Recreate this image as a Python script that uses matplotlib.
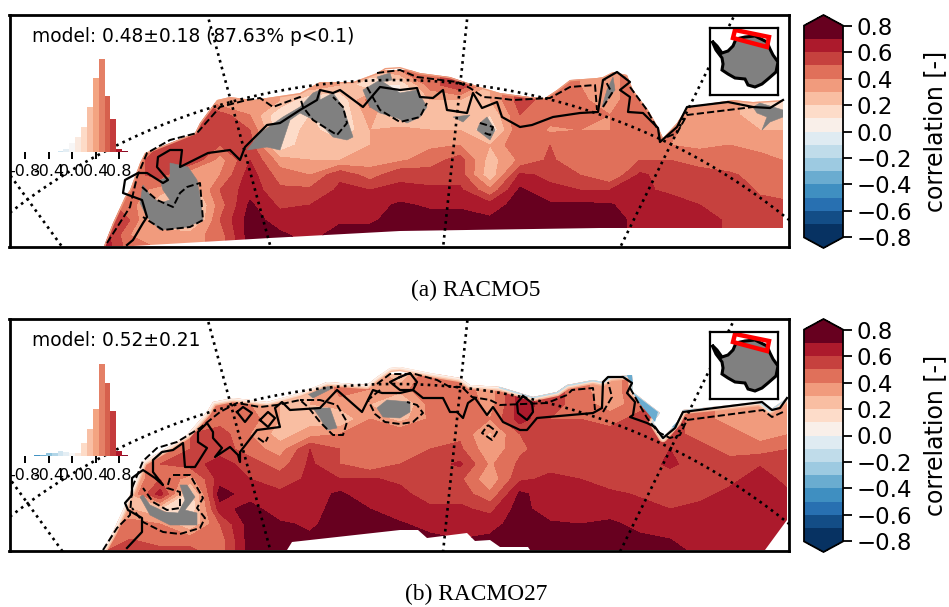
import numpy as np
import matplotlib
matplotlib.use("Agg")
import matplotlib.pyplot as plt
from matplotlib.colors import ListedColormap
from matplotlib.patches import Polygon

W, H = 949, 607
LEVELS = np.round(np.arange(-0.8, 0.81, 0.1), 1)
BAND_COLORS = ['#073262','#134d86','#2870b1','#3f8fc1','#6aacd0','#9dcae1','#c0dcea','#dfebf2',
               '#f9efe9','#fddcc9','#f9bea2','#f19b7d','#e0705a','#c6413e','#ac1a2c','#67001f']
CB_TICKS = [-0.8, -0.6, -0.4, -0.2, 0.0, 0.2, 0.4, 0.6, 0.8]
HIST_TICKS = [-0.8, -0.4, 0.0, 0.4, 0.8]
HIST_LABELS = ['-0.8', '-0.4', '0.0', '0.4', '0.8']
HIST_BINS = np.round(np.arange(-1.0, 0.91, 0.1), 1)
HIST_A = [1, 1, 1, 1, 1, 1, 1, 1, 3, 10, 28, 45, 74, 134, 221, 278, 167, 98, 8, 2]
HIST_B = [1, 1, 1, 1, 2, 3, 8, 9, 16, 11, 8, 10, 40, 82, 142, 277, 220, 136, 16, 3]

GRID_X = np.arange(100, 791, 30)
GRID_Y = np.arange(70, 251, 15)

FIELD_A = [
 [45,45,45,45,45,45,45,45,45,55,62,70,70],
 [45,45,45,45,45,45,45,45,45,45,50,40,45],
 [50,50,50,50,50,50,55,55,35,20,15,40,40],
 [55,55,55,55,55,58,60,30,20,10,10,35,35],
 [30,30,30,55,55,50,35,40,50,45,50,45,45],
 [40,40,40,40,50,55,60,65,66,72,75,75,75],
 [30,30,30,10,10,10,35,45,52,58,65,72,75],
 [40,40,10,20,25,30,30,40,52,60,65,66,70],
 [30,30,10,10,10,25,30,58,62,65,68,75,75],
 [30,10,45,35,30,30,35,45,60,65,68,75,75],
 [40,10,10,10,35,35,38,58,62,72,75,75,75],
 [45,45,30,28,30,38,45,55,62,68,75,75,75],
 [60,60,30,30,30,40,55,55,62,68,75,75,75],
 [30,30,30,20,10,30,25,22,42,64,72,75,75],
 [55,55,55,50,50,50,42,62,72,75,75,75,75],
 [45,45,45,45,38,50,52,58,62,72,75,75,75],
 [40,40,42,42,40,42,42,50,60,72,75,75,75],
 [35,35,35,40,40,50,45,40,60,71,75,75,75],
 [50,50,50,42,42,42,50,62,62,64,66,66,66],
 [42,42,42,42,42,40,50,55,58,65,65,65,65],
 [35,35,35,35,35,38,45,55,55,60,65,65,65],
 [35,35,35,35,35,40,42,52,55,57,58,58,58],
 [20,20,20,20,30,35,45,45,49,52,55,55,55],
 [20,20,20,20,30,35,38,42,45,52,55,55,55],
]
FIELD_B = [
 [30,30,30,30,30,30,30,30,30,30,40,45,50],
 [30,30,30,30,30,30,30,30,30,30,45,50,55],
 [50,50,50,50,50,50,50,50,65,20,40,45,55],
 [50,50,50,50,50,50,55,35,10,10,20,45,55],
 [45,45,45,45,55,55,65,65,75,65,50,45,45],
 [40,40,40,45,40,45,55,60,64,75,75,75,75],
 [30,30,30,30,25,35,45,55,62,62,72,75,75],
 [20,20,30,25,35,60,62,62,65,65,68,72,72],
 [45,45,35,20,40,50,50,60,72,75,75,75,75],
 [40,40,30,40,50,42,42,61,62,70,75,75,75],
 [20,35,15,25,50,50,50,58,63,65,71,75,75],
 [50,50,45,42,42,50,55,58,55,62,67,72,72],
 [45,45,50,50,48,52,62,52,56,62,65,70,70],
 [35,35,35,40,28,32,38,32,42,57,66,72,72],
 [65,65,65,65,50,48,52,58,72,75,75,75,75],
 [55,55,55,50,55,55,57,62,65,62,72,75,75],
 [45,45,45,50,55,55,60,60,62,63,70,75,75],
 [30,30,35,45,55,55,55,55,62,65,72,75,75],
 [55,55,45,55,55,55,55,55,59,63,67,72,75],
 [55,55,55,55,55,60,62,55,55,60,65,70,75],
 [45,45,45,45,45,55,55,55,57,63,65,65,68],
 [35,35,35,35,45,45,55,57,63,65,65,65,65],
 [38,38,38,38,35,45,59,65,65,65,65,65,65],
 [40,40,40,40,40,50,55,56,61,65,65,65,65],
]

EDGE_A = [(104,246),(113,223),(125,197),(130,190),(140,163),(145,153),(160,147),(195,133),(200,123),(217,100),(230,97),(253,100),(300,93),(320,82),(353,82),(377,73),(385,68),(400,67),(420,73),(450,77),(480,87),(500,93),(530,97),(545,98),(557,90),(570,80),(597,78),(603,77),(613,72),(627,75),(633,90),(648,110),(658,127),(663,138),(677,123),(687,107),(733,100),(753,102),(783,100),
          (783,228),(600,228),(400,231),(270,238),(133,246)]
EDGE_B = [(103,246),(113,228),(133,184),(143,158),(167,144),(187,131),(207,108),(213,98),(233,94),(267,98),(300,89),(327,78),(367,81),(377,73),(390,64),(400,63),(430,69),(460,74),(470,81),(500,83),(533,93),(557,88),(567,81),(593,76),(603,78),(610,73),(632,71),(633,88),(660,109),(653,118),(663,134),(677,118),(683,106),(760,98),(770,106),(787,94),
          (787,216),(765,246),(530,246),(528,243),(500,243),(490,236),(475,237),(467,229),(427,234),(418,226),(400,226),(292,238),(287,246)]
N_COAST_A, N_COAST_B = 39, 36

GREY_A = [
 [(140,203),(147,217),(160,230),(187,227),(203,220),(200,197),(197,180),(188,167),(170,163),(170,177),(160,180),(163,190),(170,200),(160,203),(150,195),(143,185)],
 [(247,150),(260,133),(283,117),(300,107),(313,93),(320,90),(320,100),(333,93),(343,107),(353,137),(347,140),(333,137),(320,123),(300,113),(290,120),(280,150),(267,147)],
 [(363,90),(380,80),(400,93),(417,90),(427,107),(420,117),(407,123),(397,118),(380,113),(370,107)],
 [(377,77),(390,73),(392,80),(380,82)],
 [(480,123),(487,117),(495,130),(490,140),(477,130)],
 [(453,117),(470,115),(463,122)],
 [(607,90),(613,77),(615,90),(602,107)],
 [(753,107),(760,103),(783,110),(783,117),(770,122),(762,130),(767,117),(757,113)],
]
GREY_B = [
 [(140,193),(150,211),(170,221),(197,221),(197,209),(185,206),(195,193),(187,181),(180,181),(185,196),(178,209),(165,208),(150,201),(143,191)],
 [(313,104),(330,104),(337,124),(327,126),(320,114)],
 [(327,78),(333,84),(313,94),(307,89)],
 [(377,104),(387,96),(410,98),(410,108),(400,114),(383,113)],
 [(557,88),(563,79),(569,79),(563,89)],
]
BLUE_B = [
 [(627,71),(632,71),(633,81),(628,74)],
 [(633,89),(658,108),(655,118),(640,100)],
 [(672,123),(677,118),(677,124)],
]

SOLID_A = [[(127,245),(133,240),(143,223),(147,217),(142,200),(123,193),(125,180),(138,173),(147,173),(163,183),(168,180),(157,167),(158,157),(170,150),(182,150),(180,167),(208,153),(230,150),(240,160),(245,147),(267,125),(280,123),(300,110),(317,100),(320,90),(333,93),(340,90),(363,107),(380,87),(400,90),(417,88),(420,97),(433,98),(443,90),(447,110),(467,113),(473,93),(482,108),(497,102),(502,117),(520,127),(532,125),(553,117),(580,113),(598,112),(603,80),(617,72),(630,82),(620,90),(630,97),(628,112),(643,113),(658,128),(660,142),(677,127),(687,107),(728,102),(753,107),(770,108),(783,100)]]
DASH_A = [
 [(107,243),(130,207),(137,177),(147,153),(170,140),(197,133),(220,107),(247,100),(260,98),(273,107),(300,97),(303,107),(313,120),(337,135),(347,123),(343,107),(333,97)],
 [(142,187),(157,200),(173,207),(180,193),(187,187),(200,183),(203,220),(190,227),(163,230),(143,217)],
 [(367,87),(380,110),(400,122),(420,117),(427,103)],
 [(377,73),(400,70),(417,77),(457,82),(470,88),(483,97),(497,98),(513,100),(550,98),(570,87),(595,85),(597,110)],
 [(603,107),(612,93),(605,80)],
 [(630,87),(647,110),(658,130)],
 [(667,137),(677,133),(687,115),(753,107)],
 [(480,123),(493,127),(490,135),(482,132)],
]
SOLID_B = [
 [(127,244),(142,228),(142,214),(128,206),(125,199),(132,191),(132,174),(143,166),(155,174),(163,181),(153,168),(153,156),(162,148),(173,146),(183,139),(185,163),(195,163),(207,144),(198,138),(198,128),(207,119),(213,128),(213,134),(222,144),(215,153),(230,143),(238,151),(240,158),(240,148),(257,126),(280,123),(275,104),(282,98),(290,106),(320,104),(337,86),(362,108),(373,86),(382,89),(400,89),(413,86),(423,94),(443,94),(450,108),(457,108),(463,114),(468,99),(475,94),(487,111),(493,103),(503,118),(520,126),(527,126),(537,114),(593,109),(602,104),(603,78),(608,73),(623,73),(632,79),(627,89),(635,98),(633,111),(630,113),(647,119),(655,123),(663,134),(675,124),(683,108),(762,98),(772,106),(780,104),(787,94)],
 [(237,108),(243,103),(252,109),(245,118),(237,108)],
 [(260,116),(268,108),(275,114),(268,123),(260,116)],
 [(400,73),(410,69),(417,78),(413,86),(400,86),(390,78),(400,73)],
 [(523,92),(532,99),(533,108),(527,116),(518,109),(517,99),(523,92)],
]
DASH_B = [
 [(103,246),(117,224),(130,211),(132,184),(143,157),(157,144),(177,138),(200,124),(220,108),(237,99),(260,103),(277,101),(300,96),(308,103),(320,118),(333,131),(343,131),(347,118),(337,101),(320,96),(300,96)],
 [(173,171),(190,171),(203,194),(197,204),(205,214),(200,224),(180,230),(163,228),(143,218),(132,204)],
 [(170,174),(167,184),(180,188),(180,204),(167,206),(153,198),(143,184)],
 [(380,86),(368,96),(375,110),(385,118),(400,120),(413,118),(423,109),(417,101),(407,98)],
 [(377,80),(390,70),(415,70),(437,76),(450,83),(462,83),(472,93),(490,96),(500,101),(547,99),(567,91),(572,86),(593,84),(595,106)],
 [(603,108),(612,93),(608,78)],
 [(630,84),(647,114),(658,128),(670,134),(680,131),(687,116),(763,106),(772,113),(783,108)],
 [(488,121),(497,128),(492,136),(482,129),(488,121)],
 [(258,134),(265,139),(268,133)],
]

CENTER = (395, 705)
LAT_RADIUS = 625
MERIDIANS_DEG = [-36, -15.2, 6, 26.2]

CONTINENT = [(712,41),(717,46),(722,53),(728,51),(733,46),(736,39),(745,37),(755,36),(767,42),(770,49),(773,55),(778,62),(776,72),(768,79),(762,84),(755,87),(748,85),(745,79),(735,78),(728,74),(722,70),(723,64),(722,58),(716,50),(712,41)]
BOX = [(735,30),(769,37),(767,47),(733,38)]

cmap16 = ListedColormap(BAND_COLORS)
cmap16.set_over(BAND_COLORS[-1]); cmap16.set_under(BAND_COLORS[0])
full = plt.get_cmap('RdBu_r')

fig = plt.figure(figsize=(W/100, H/100), dpi=100)
def pxax(x0, y0, x1, y1, **kw):
    return fig.add_axes([x0/W, 1-y1/H, (x1-x0)/W, (y1-y0)/H], **kw)

def panel(y0, field, edge, ncoast, grey, solid, dash, hist, text, blue=None, fringe=False):
    y1 = y0 + 232
    ax = pxax(9.5, y0, 789, y1)
    ax.set_xlim(9.5, 789); ax.set_ylim(247, 15)
    ax.set_xticks([]); ax.set_yticks([])
    for s in ax.spines.values():
        s.set_linewidth(2.0)
    clip = Polygon(edge, closed=True, transform=ax.transData, fc='none', ec='none')
    ax.add_patch(clip)
    Z = np.array(field).T / 100.0
    cf = ax.contourf(GRID_X, GRID_Y, Z, levels=LEVELS, cmap=cmap16, extend='both', zorder=1)
    cf.set_clip_path(clip)
    for g in grey:
        p = Polygon(g, closed=True, fc='#808080', ec='#808080', lw=0.4, zorder=2)
        ax.add_patch(p); p.set_clip_path(clip)
    ex, ey = zip(*edge[:ncoast])
    ex, ey = np.array(ex), np.array(ey)
    if fringe:
        split = np.searchsorted(ex[:24], 500)
        for lw, cl, cr in [(6, '#f7b799', '#f7b799'), (4, '#fddcc9', '#fddcc9'), (2, '#fbf0ea', '#bcdcea')]:
            l1, = ax.plot(ex[:split+1], ey[:split+1], color=cl, lw=lw, zorder=2.5, solid_capstyle='round')
            l2, = ax.plot(ex[split:], ey[split:], color=cr, lw=lw, zorder=2.5, solid_capstyle='round')
            l1.set_clip_path(clip); l2.set_clip_path(clip)
        for b in blue or []:
            ax.add_patch(Polygon(b, closed=True, fc='#6aacd0', ec='none', zorder=2.6))
    else:
        l, = ax.plot(ex, ey, color='#ee9c7c', lw=2, zorder=1.5)
        l.set_clip_path(clip)
    for seg in solid:
        sx, sy = zip(*seg)
        ax.plot(sx, sy, color='k', lw=1.6, zorder=3)
    for seg in dash:
        sx, sy = zip(*seg)
        ax.plot(sx, sy, color='k', lw=1.4, ls='--', zorder=3)
    th = np.radians(np.linspace(-70, 70, 600))
    ax.plot(CENTER[0] + LAT_RADIUS*np.sin(th), CENTER[1] - LAT_RADIUS*np.cos(th), color='k', ls=':', lw=1.9, zorder=4)
    r = np.array([400, 800])
    for d in MERIDIANS_DEG:
        a = np.radians(d)
        ax.plot(CENTER[0] + r*np.sin(a), CENTER[1] - r*np.cos(a), color='k', ls=':', lw=1.9, zorder=4)
    ax.set_xlim(9.5, 789); ax.set_ylim(247, 15)
    ax.text(32, 36, text, fontsize=13.4, va='center', ha='left', zorder=6)
    base = y0 + 137
    hx = pxax(10.5, base-100, 128, base, facecolor='none')
    hx.patch.set_alpha(0)
    hx.bar(HIST_BINS, hist, width=0.1, color=[full((b+1)/2) for b in HIST_BINS], linewidth=0)
    hx.set_xlim(-1.05, 0.95); hx.set_ylim(0, 300)
    hx.set_yticks([])
    hx.set_xticks(HIST_TICKS); hx.set_xticklabels(HIST_LABELS, fontsize=11.5)
    hx.tick_params(axis='x', length=5, width=1.4, pad=4)
    for s in hx.spines.values():
        s.set_visible(False)
    ix = pxax(710, y0+13, 778, y0+80)
    ix.set_xlim(710, 778); ix.set_ylim(95, 28)
    ix.set_xticks([]); ix.set_yticks([])
    for s in ix.spines.values():
        s.set_linewidth(1.6)
    ix.add_patch(Polygon(CONTINENT, closed=True, fc='#808080', ec='k', lw=2.2))
    ix.add_patch(Polygon(BOX, closed=True, fc='none', ec='red', lw=3.2))
    cax = pxax(804, y0, 843, y1+1)
    cb = fig.colorbar(cf, cax=cax, ticks=CB_TICKS)
    cb.ax.tick_params(labelsize=16.5, length=6.5, width=1.3, pad=3)
    cb.set_label('correlation [-]', fontsize=17, labelpad=8)
    cb.outline.set_linewidth(1.3)
    return ax

panel(15, FIELD_A, EDGE_A, N_COAST_A, GREY_A, SOLID_A, DASH_A, HIST_A, 'model: 0.48±0.18 (87.63% p<0.1)')
panel(319, FIELD_B, EDGE_B, N_COAST_B, GREY_B, SOLID_B, DASH_B, HIST_B, 'model: 0.52±0.21', blue=BLUE_B, fringe=True)

serif = ['Liberation Serif', 'DejaVu Serif']
fig.text(476/W, 1-290/H, '(a) RACMO5', family=serif, fontsize=16.8, ha='center', va='center')
fig.text(476/W, 1-594/H, '(b) RACMO27', family=serif, fontsize=16.8, ha='center', va='center')
fig.savefig('out.png', dpi=100)
